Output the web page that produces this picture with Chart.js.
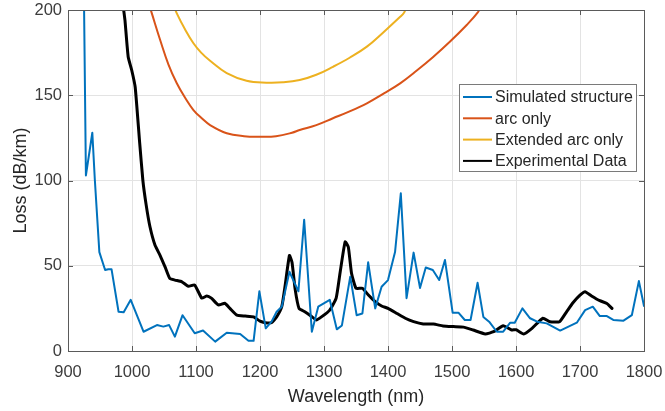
<!DOCTYPE html>
<html>
<head>
<meta charset="utf-8">
<script src="https://cdn.jsdelivr.net/npm/chart.js@4.4.0/dist/chart.umd.min.js"></script>
<style>
    html, body { margin: 0; padding: 0; background: #fff; }
    #wrap { width: 665px; height: 411px; }
</style>
</head>
<body>
<div id="wrap"><canvas id="lossChart" width="665" height="411"></canvas></div>
<script>
// values
var seriesNames = ['Simulated structure', 'arc only', 'Extended arc only', 'Experimental Data'];
var xTicks = [900, 1000, 1100, 1200, 1300, 1400, 1500, 1600, 1700, 1800];
var yTicks = [0, 50, 100, 150, 200];

var simWavelength = [925, 928, 938, 942, 949, 958, 963, 968, 979, 987, 998, 1018, 1039, 1049, 1058, 1067, 1079, 1098, 1111, 1130,
    1148, 1169, 1182, 1190, 1199, 1209, 1218, 1226, 1234, 1246, 1260, 1269, 1281, 1291, 1309, 1320, 1328, 1341, 1351, 1360,
    1369, 1380, 1390, 1400, 1411, 1420, 1429, 1440, 1450, 1459, 1470, 1480, 1489, 1501, 1510, 1520, 1529, 1540, 1549, 1558,
    1570, 1580, 1591, 1598, 1610, 1622, 1633, 1648, 1669, 1682, 1695, 1708, 1720, 1731, 1742, 1752, 1768, 1781, 1792, 1800];
var simLoss = [205, 103, 128, 100, 58, 47.5, 48, 48, 23, 22.7, 30, 11.3, 15.2, 14.3, 15.2, 8.4, 21, 10.4, 12, 5.5,
    10.7, 10, 6, 6, 35, 13.3, 17.2, 23, 26, 46.5, 35, 77, 11.3, 26, 30, 12.7, 15, 43.6, 21, 22,
    52, 25, 37.7, 41.6, 58, 92.5, 31, 57.7, 37, 49, 47.5, 41.6, 53.4, 22.5, 22.5, 18.2, 18.2, 40, 20, 17.2,
    11.3, 11.3, 16.6, 16.6, 25, 19.2, 17.2, 16.2, 12, 14.3, 16.6, 24, 26, 20.5, 20.5, 18.2, 17.8, 21, 41, 26.4];

var arcWavelength = [1026, 1031, 1044, 1057, 1070, 1083, 1096, 1109, 1122, 1148, 1175, 1200, 1225, 1250, 1262, 1288, 1314,
    1340, 1367, 1393, 1419, 1445, 1471, 1497, 1523, 1540, 1545];
var arcLoss = [204, 198, 182.4, 168, 157, 148.5, 141.3, 136.5, 132.5, 127.7, 126, 125.7, 126, 128, 129.6, 132.5, 136.5,
    140.5, 145.3, 151, 157, 164.5, 172.6, 181.5, 191.2, 198.4, 202];

var extWavelength = [1066, 1070, 1083, 1096, 1108, 1122, 1148, 1179, 1210, 1236, 1262, 1288, 1314, 1340, 1367, 1393,
    1419, 1425, 1428];
var extLoss = [202, 198, 188.5, 180.5, 175, 170.2, 163, 158.5, 157.4, 157.6, 158.9, 162, 166.7, 172, 178.5, 187,
    196, 198.4, 201];

var expWavelength = [985, 987, 989, 994, 999.5, 1005, 1012, 1017, 1022, 1028, 1036, 1044, 1052, 1059, 1067, 1078, 1088, 1098,
    1109, 1117, 1124, 1135, 1145, 1153, 1164, 1177, 1190, 1200, 1208, 1218, 1226, 1234, 1239, 1246, 1250, 1255, 1261, 1270,
    1278, 1288, 1296, 1309, 1319, 1325, 1333, 1338, 1343, 1350, 1360, 1369, 1380, 1390, 1400, 1414, 1427, 1440, 1455, 1471,
    1486, 1502, 1518, 1533, 1552, 1565, 1580, 1593, 1600, 1612, 1625, 1642, 1653, 1668, 1679, 1689, 1700, 1708, 1718, 1731,
    1742, 1750];
var expLoss = [206, 200, 194, 172.6, 164.8, 154.7, 122, 100, 86, 73, 62, 56, 49, 42.6, 41.6, 40.6, 38, 38.7,
    31, 32.3, 31, 27, 28, 25, 21, 20.5, 20, 17.5, 16.6, 16.6, 20, 26, 37.7, 56, 52, 36, 25, 23,
    21, 18.2, 20, 24, 31, 45.6, 64, 61, 45.6, 36.8, 36.8, 33, 29, 26.4, 25, 22, 19.2, 17.2, 15.8, 15.8,
    14.7, 14.3, 14, 12.3, 10, 11.3, 14.8, 12.3, 12.5, 10, 13.3, 19.2, 17.2, 17.2, 23, 28.3, 32.8, 34.8, 32.3, 29.5,
    27.9, 25];

var lineColors = ['#0072BD', '#D95319', '#EDB120', '#000000'];
var fontName = 'Arial, "Liberation Sans", Helvetica, sans-serif';

function toPoints(xs, ys) {
    var pts = [];
    for (var i = 0; i < xs.length; i++) {
        pts.push({ x: xs[i], y: ys[i] });
    }
    return pts;
}

// MATLAB style box with inward ticks
var boxPlugin = {
    id: 'boxPlugin',
    afterDatasetsDraw: function (chart) {
        var c = chart.ctx;
        var a = chart.chartArea;
        var xs = chart.scales.x;
        var ys = chart.scales.y;
        c.save();
        c.strokeStyle = '#5a5a5a';
        c.lineWidth = 1;
        c.strokeRect(Math.round(a.left) + 0.5, Math.round(a.top) + 0.5, Math.round(a.right - a.left), Math.round(a.bottom - a.top));
        c.beginPath();
        for (var i = 0; i < xTicks.length; i++) {
            var px = Math.round(xs.getPixelForValue(xTicks[i])) + 0.5;
            c.moveTo(px, a.bottom); c.lineTo(px, a.bottom - 5);
            c.moveTo(px, a.top); c.lineTo(px, a.top + 5);
        }
        for (var j = 0; j < yTicks.length; j++) {
            var py = Math.round(ys.getPixelForValue(yTicks[j])) + 0.5;
            c.moveTo(a.left, py); c.lineTo(a.left + 5, py);
            c.moveTo(a.right, py); c.lineTo(a.right - 5, py);
        }
        c.stroke();
        c.restore();
    }
};

var legendPlugin = {
    id: 'legendPlugin',
    afterDraw: function (chart) {
        var c = chart.ctx;
        var left = 459, top = 84, w = 177, h = 87, rowH = 21.3;
        c.save();
        c.fillStyle = '#ffffff';
        c.fillRect(left, top, w, h);
        c.strokeStyle = '#7a7a7a';
        c.lineWidth = 1;
        c.strokeRect(left + 0.5, top + 0.5, w, h);
        c.font = '16px ' + fontName;
        c.textBaseline = 'middle';
        c.fillStyle = '#262626';
        chart.data.datasets.forEach(function (ds, i) {
            var y = top + 13 + i * rowH;
            c.strokeStyle = ds.borderColor;
            c.lineWidth = 2;
            c.beginPath();
            c.moveTo(left + 4, y);
            c.lineTo(left + 33, y);
            c.stroke();
            c.fillText(ds.label, left + 36, y + 1);
        });
        c.restore();
    }
};

var ctx = document.getElementById('lossChart').getContext('2d');
var lossChart = new Chart(ctx, {
    type: 'line',
    data: {
        datasets: [
            { label: seriesNames[0], data: toPoints(simWavelength, simLoss), borderColor: lineColors[0], borderWidth: 2, tension: 0 },
            { label: seriesNames[1], data: toPoints(arcWavelength, arcLoss), borderColor: lineColors[1], borderWidth: 2, tension: 0.4 },
            { label: seriesNames[2], data: toPoints(extWavelength, extLoss), borderColor: lineColors[2], borderWidth: 2, tension: 0.4 },
            { label: seriesNames[3], data: toPoints(expWavelength, expLoss), borderColor: lineColors[3], borderWidth: 3, tension: 0.15 }
        ]
    },
    options: {
        responsive: false,
        animation: false,
        elements: { point: { radius: 0 }, line: { fill: false, borderJoinStyle: 'round', borderCapStyle: 'round' } },
        datasets: { line: { clip: 0 } },
        layout: { padding: { top: 10, right: 21, left: 0, bottom: 0 } },
        plugins: { legend: { display: false }, tooltip: { enabled: false } },
        scales: {
            x: {
                type: 'linear',
                min: 900, max: 1800,
                afterBuildTicks: function (scale) { scale.ticks = xTicks.map(function (v) { return { value: v }; }); },
                afterFit: function (scale) {
                    scale.height = 60;
                    scale.paddingLeft = 0;
                    scale.paddingRight = 0;
                },
                grid: { color: '#e3e3e3', drawTicks: false },
                border: { display: false },
                ticks: {
                    color: '#3c3c3c', padding: 12, font: { family: fontName, size: 16.5 }, maxRotation: 0,
                    callback: function (v) { return String(v); }
                },
                title: { display: true, text: 'Wavelength (nm)', color: '#262626', font: { family: fontName, size: 18 }, padding: { top: 0, bottom: 3 } }
            },
            y: {
                type: 'linear',
                min: 0, max: 200,
                afterBuildTicks: function (scale) { scale.ticks = yTicks.map(function (v) { return { value: v }; }); },
                afterFit: function (scale) {
                    scale.width = 68;
                    scale.paddingTop = 0;
                    scale.paddingBottom = 0;
                },
                grid: { color: '#e3e3e3', drawTicks: false },
                border: { display: false },
                ticks: {
                    color: '#3c3c3c', padding: 6, font: { family: fontName, size: 16.5 },
                    callback: function (v) { return String(v); }
                },
                title: { display: true, text: 'Loss (dB/km)', color: '#262626', font: { family: fontName, size: 18 }, padding: { top: 10, bottom: 0 } }
            }
        }
    },
    plugins: [boxPlugin, legendPlugin]
});
</script>
</body>
</html>
